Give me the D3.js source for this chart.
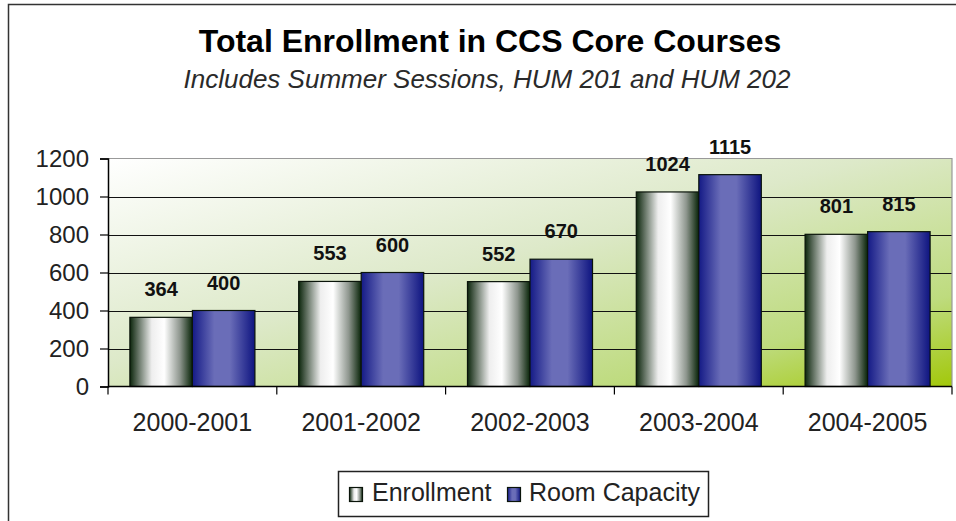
<!DOCTYPE html>
<html>
<head>
<meta charset="utf-8">
<script src="https://cdn.jsdelivr.net/npm/d3@7"></script>
<style>
  html, body { margin: 0; padding: 0; background: #fff; }
  svg { display: block; font-family: "Liberation Sans", Arial, sans-serif; }
</style>
</head>
<body>
<div id="chart"></div>
<script>
// --- data ---
const categories = ["2000-2001", "2001-2002", "2002-2003", "2003-2004", "2004-2005"];
const seriesNames = ["Enrollment", "Room Capacity"];
const enrollment = [364, 553, 552, 1024, 801];
const roomCapacity = [400, 600, 670, 1115, 815];
const yTicks = [0, 200, 400, 600, 800, 1000, 1200];

const width = 956, height = 521;
const plot = { left: 108, right: 952, top: 158.5, bottom: 386.5 };

const svg = d3.select("#chart").append("svg")
    .attr("width", width)
    .attr("height", height);

const defs = svg.append("defs");

// plot area background: white top-left to yellow-green bottom-right
const bg = defs.append("linearGradient").attr("id", "bgGrad")
    .attr("x1", 0).attr("y1", 0).attr("x2", 1).attr("y2", 1);
[[0, "#ffffff"], [0.45, "#dde9c9"], [0.8, "#bedb7e"], [1, "#a2c80a"]]
    .forEach(s => bg.append("stop").attr("offset", s[0]).attr("stop-color", s[1]));

// cylinder-ish bar shading
const gEnr = defs.append("linearGradient").attr("id", "enrGrad")
    .attr("x1", 0).attr("y1", 0).attr("x2", 1).attr("y2", 0);
[[0, "#0c260c"], [0.12, "#5a6a5a"], [0.35, "#eeeeee"], [0.55, "#ffffff"], [0.8, "#8e968e"], [1, "#082408"]]
    .forEach(s => gEnr.append("stop").attr("offset", s[0]).attr("stop-color", s[1]));

const gCap = defs.append("linearGradient").attr("id", "capGrad")
    .attr("x1", 0).attr("y1", 0).attr("x2", 1).attr("y2", 0);
[[0, "#141a86"], [0.35, "#6a6db8"], [0.6, "#6a6db8"], [1, "#0e1480"]]
    .forEach(s => gCap.append("stop").attr("offset", s[0]).attr("stop-color", s[1]));

const fills = ["url(#enrGrad)", "url(#capGrad)"];

// outer frame (runs past the right/bottom edge in the reference)
svg.append("rect")
    .attr("x", 8.5).attr("y", 4.5)
    .attr("width", 1000).attr("height", 600)
    .attr("fill", "none").attr("stroke", "#333").attr("stroke-width", 1.5);

// titles
svg.append("text")
    .attr("x", 490).attr("y", 52)
    .attr("text-anchor", "middle")
    .style("font-size", "32px").style("font-weight", "bold")
    .attr("fill", "#000")
    .text("Total Enrollment in CCS Core Courses");

svg.append("text")
    .attr("x", 487).attr("y", 88)
    .attr("text-anchor", "middle")
    .style("font-size", "26px").style("font-style", "italic")
    .attr("fill", "#2a2a2a")
    .text("Includes Summer Sessions, HUM 201 and HUM 202");

// scales
const x0 = d3.scaleBand().domain(categories).range([plot.left, plot.right]).padding(0);
const x1 = d3.scaleBand().domain(seriesNames).range([0, x0.bandwidth()])
    .paddingInner(0).paddingOuter(0.35);
const y = d3.scaleLinear().domain([0, 1200]).range([plot.bottom, plot.top]);

// background
svg.append("rect")
    .attr("x", plot.left).attr("y", plot.top)
    .attr("width", plot.right - plot.left).attr("height", plot.bottom - plot.top)
    .attr("fill", "url(#bgGrad)");

// gridlines
svg.append("g").selectAll("line")
    .data(yTicks.filter(t => t > 0 && t < 1200))
    .join("line")
    .attr("x1", plot.left).attr("x2", plot.right)
    .attr("y1", d => Math.round(y(d)) + 0.5).attr("y2", d => Math.round(y(d)) + 0.5)
    .attr("stroke", "#111").attr("stroke-width", 1.2);

// top & right border
svg.append("path")
    .attr("d", `M${plot.left},${plot.top}H${plot.right}V${plot.bottom}`)
    .attr("fill", "none").attr("stroke", "#999").attr("stroke-width", 1.2);

// bars
const rows = categories.map((c, i) => ({ cat: c, vals: [enrollment[i], roomCapacity[i]] }));

const groups = svg.append("g").selectAll("g")
    .data(rows)
    .join("g")
    .attr("transform", d => `translate(${x0(d.cat)},0)`);

groups.selectAll("rect")
    .data(d => d.vals.map((v, k) => ({ key: seriesNames[k], k: k, v: v })))
    .join("rect")
    .attr("x", d => x1(d.key))
    .attr("y", d => y(d.v))
    .attr("width", x1.bandwidth())
    .attr("height", d => y(0) - y(d.v))
    .attr("fill", d => fills[d.k])
    .attr("stroke", "#0a140a").attr("stroke-width", 1.2);

groups.selectAll("text")
    .data(d => d.vals.map((v, k) => ({ key: seriesNames[k], v: v })))
    .join("text")
    .attr("x", d => x1(d.key) + x1.bandwidth() / 2)
    .attr("y", d => y(d.v) - 21)
    .attr("text-anchor", "middle")
    .style("font-size", "20px").style("font-weight", "bold")
    .attr("fill", "#111")
    .text(d => d.v);

// y axis
const yAxis = svg.append("g")
    .attr("transform", `translate(${plot.left},0)`)
    .call(d3.axisLeft(y).tickValues(yTicks).tickFormat(d3.format("d")).tickSize(8).tickPadding(11));
yAxis.select(".domain").attr("stroke", "#000").attr("stroke-width", 1.5);
yAxis.selectAll(".tick line").attr("stroke", "#000").attr("stroke-width", 1.2);
yAxis.selectAll(".tick text")
    .style("font-size", "24px").attr("fill", "#222")
    .attr("font-family", "Liberation Sans, Arial, sans-serif");

// x axis: ticks at category boundaries
svg.append("line")
    .attr("x1", plot.left).attr("x2", plot.right)
    .attr("y1", plot.bottom).attr("y2", plot.bottom)
    .attr("stroke", "#000").attr("stroke-width", 1.5);

const bounds = categories.map(c => x0(c)).concat([plot.right]);
svg.append("g").selectAll("line")
    .data(bounds)
    .join("line")
    .attr("x1", d => d).attr("x2", d => d)
    .attr("y1", plot.bottom).attr("y2", plot.bottom + 8)
    .attr("stroke", "#000").attr("stroke-width", 1.2);

svg.append("g").selectAll("text")
    .data(categories)
    .join("text")
    .attr("x", d => x0(d) + x0.bandwidth() / 2)
    .attr("y", 431)
    .attr("text-anchor", "middle")
    .style("font-size", "25px")
    .attr("fill", "#222")
    .text(d => d);

// legend
const legend = svg.append("g");
legend.append("rect")
    .attr("x", 338.5).attr("y", 471.5)
    .attr("width", 370).attr("height", 45)
    .attr("fill", "#fff").attr("stroke", "#222").attr("stroke-width", 1.5);

const legendItems = [
    { name: seriesNames[0], sx: 349, tx: 372 },
    { name: seriesNames[1], sx: 507, tx: 529 }
];
legendItems.forEach((it, k) => {
    legend.append("rect")
        .attr("x", it.sx + 0.5).attr("y", 487.5)
        .attr("width", 13).attr("height", 14)
        .attr("fill", fills[k]).attr("stroke", "#0a140a").attr("stroke-width", 1.2);
    legend.append("text")
        .attr("x", it.tx).attr("y", 501)
        .style("font-size", "25px")
        .attr("fill", "#222")
        .text(it.name);
});
</script>
</body>
</html>
